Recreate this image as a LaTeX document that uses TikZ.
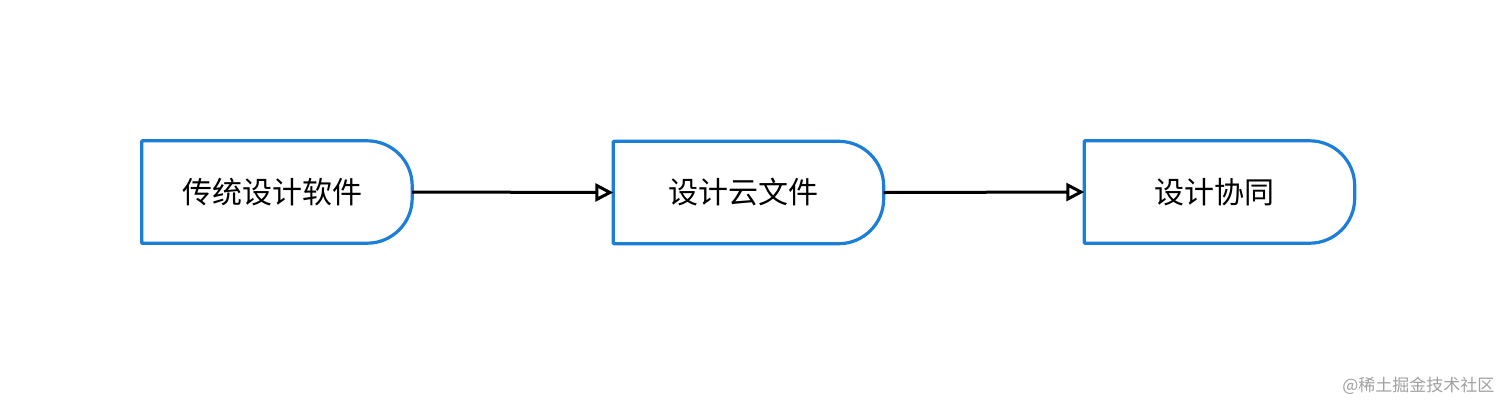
\documentclass[tikz,border=0pt]{standalone}
\usepackage{fontspec}
\newfontfamily\cjk{Noto Sans CJK SC}
\usetikzlibrary{arrows.meta}
\definecolor{boxblue}{HTML}{1C7ED6}
\definecolor{wmgray}{HTML}{A0A0A0}
\tikzset{
  boxnode/.style={draw=none, minimum width=270pt, minimum height=102pt, inner sep=0pt, font=\cjk\fontsize{30}{34}\selectfont},
  outline/.style={draw=boxblue, line width=3.2pt, line join=round},
  flow/.style={draw=black, line width=3pt, -{Triangle[open, length=18pt, width=18pt, line width=3pt]}},
  wm/.style={text=wmgray, font=\cjk\fontsize{17}{20}\selectfont, anchor=east}
}
\newcommand{\delayoutline}[1]{%
  \draw[outline] (#1.north west) -- ([xshift=-45pt]#1.north east)
    arc[start angle=90, end angle=0, radius=45pt]
    -- ([yshift=45pt]#1.south east)
    arc[start angle=0, end angle=-90, radius=45pt]
    -- (#1.south west) -- cycle;}
\begin{document}
\begin{tikzpicture}[x=1pt, y=-1pt]
  \useasboundingbox (0,0) rectangle (1512,413);
  \node[boxnode] (a) at (277,192) {\hspace*{-10pt}传统设计软件};
  \node[boxnode] (b) at (748.5,192.5) {\hspace*{-10pt}设计云文件};
  \node[boxnode] (c) at (1219.5,192) {\hspace*{-10pt}设计协同};
  \delayoutline{a}
  \delayoutline{b}
  \delayoutline{c}
  \draw[flow] (a.east) -- (b.west);
  \draw[flow] (b.east) -- (c.west);
  \node[wm] (w) at (1498,386) {@稀土掘金技术社区};
\end{tikzpicture}
\end{document}
